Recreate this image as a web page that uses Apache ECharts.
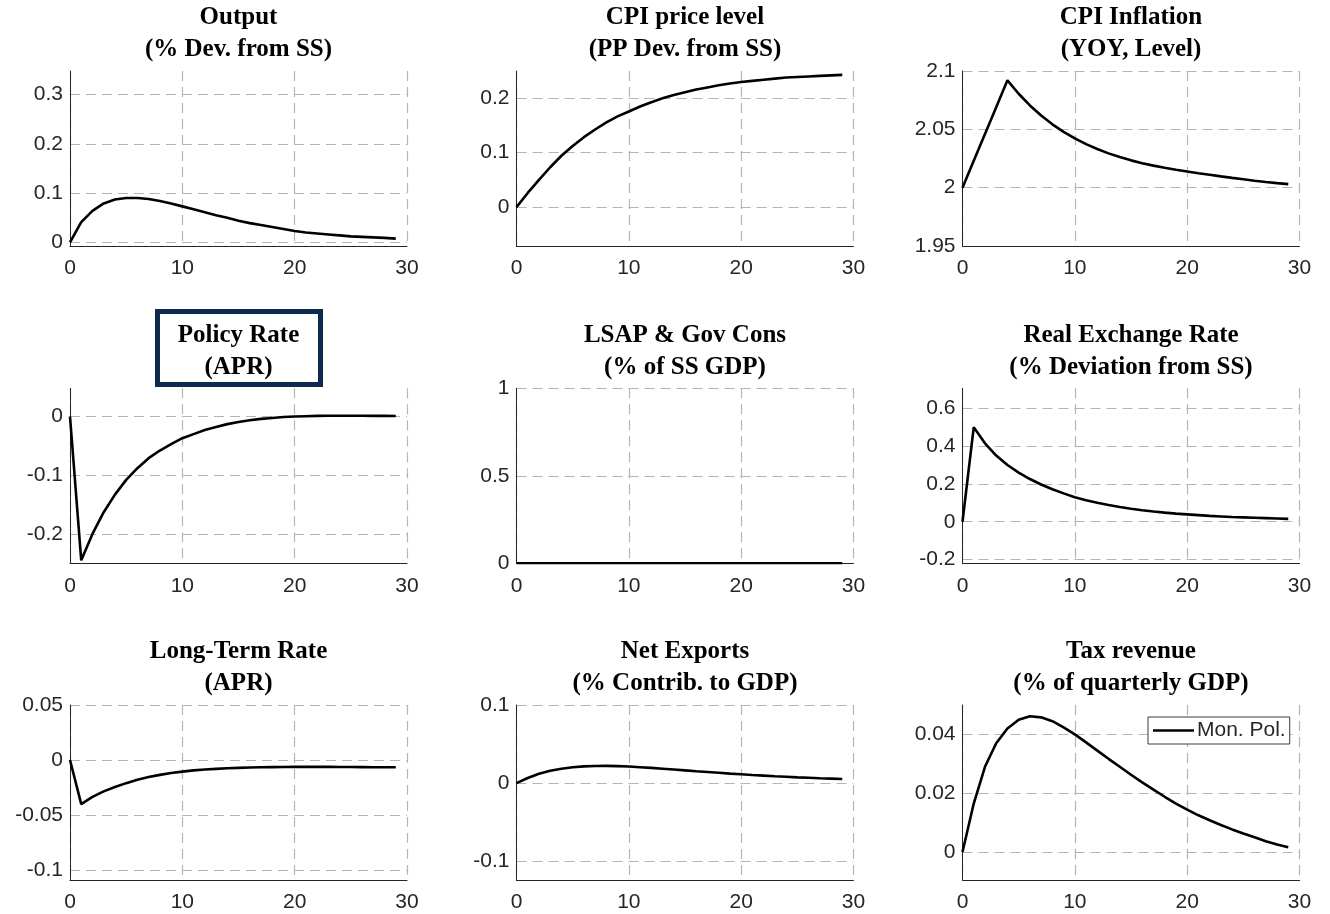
<!DOCTYPE html>
<html><head><meta charset="utf-8">
<script src="https://cdn.jsdelivr.net/npm/echarts@6/dist/echarts.min.js"></script>
<style>html,body{margin:0;padding:0;background:#fff}#c{width:1330px;height:914px}</style>
</head><body><div id="c"></div><script>
// ---------------- DATA ----------------
const periods = [0,1,2,3,4,5,6,7,8,9,10,11,12,13,14,15,16,17,18,19,20,21,22,23,24,25,26,27,28,29];

const titles = [
  'Output\n(% Dev. from SS)',
  'CPI price level\n(PP Dev. from SS)',
  'CPI Inflation\n(YOY, Level)',
  'Policy Rate\n(APR)',
  'LSAP & Gov Cons\n(% of SS GDP)',
  'Real Exchange Rate\n(% Deviation from SS)',
  'Long-Term Rate\n(APR)',
  'Net Exports\n(% Contrib. to GDP)',
  'Tax revenue\n(% of quarterly GDP)'
];

const output = [0, 0.041, 0.064, 0.079, 0.087, 0.090, 0.090, 0.088, 0.084, 0.079, 0.073, 0.067, 0.061, 0.055, 0.050, 0.044, 0.039, 0.035, 0.031, 0.027, 0.023, 0.020, 0.018, 0.016, 0.014, 0.012, 0.011, 0.010, 0.009, 0.0075];
const cpiLevel = [0, 0.026, 0.050, 0.073, 0.094, 0.112, 0.128, 0.142, 0.155, 0.166, 0.175, 0.184, 0.192, 0.199, 0.205, 0.210, 0.215, 0.219, 0.223, 0.226, 0.229, 0.231, 0.233, 0.235, 0.237, 0.238, 0.239, 0.240, 0.241, 0.242];
const cpiInflation = [2.0, 2.023, 2.046, 2.069, 2.092, 2.0805, 2.0705, 2.0618, 2.0543, 2.0478, 2.0422, 2.0373, 2.0331, 2.0294, 2.0262, 2.0234, 2.0210, 2.0189, 2.0170, 2.0153, 2.0138, 2.0124, 2.0111, 2.0097, 2.0084, 2.0072, 2.0060, 2.0049, 2.0039, 2.0030];
const policyRate = [0, -0.245, -0.200, -0.163, -0.133, -0.108, -0.088, -0.071, -0.058, -0.047, -0.037, -0.030, -0.023, -0.018, -0.013, -0.0095, -0.0065, -0.004, -0.0025, -0.001, 0, 0.0005, 0.001, 0.0012, 0.0013, 0.0013, 0.0012, 0.0011, 0.001, 0.0009];
const lsapGov = [0,0,0,0,0,0,0,0,0,0,0,0,0,0,0,0,0,0,0,0,0,0,0,0,0,0,0,0,0,0];
const realExRate = [0, 0.5, 0.415, 0.35, 0.30, 0.26, 0.226, 0.197, 0.172, 0.150, 0.130, 0.114, 0.100, 0.088, 0.078, 0.069, 0.061, 0.054, 0.048, 0.043, 0.039, 0.035, 0.031, 0.028, 0.025, 0.023, 0.021, 0.019, 0.017, 0.015];
const longRate = [0, -0.040, -0.0335, -0.0285, -0.0245, -0.021, -0.018, -0.0155, -0.0135, -0.0118, -0.0105, -0.0094, -0.0086, -0.008, -0.0075, -0.0071, -0.0068, -0.0066, -0.0064, -0.0063, -0.0062, -0.0062, -0.0062, -0.0062, -0.0063, -0.0063, -0.0064, -0.0065, -0.0066, -0.0066];
const netExports = [0, 0.0065, 0.012, 0.0158, 0.0185, 0.0203, 0.0214, 0.022, 0.0221, 0.0218, 0.0212, 0.0204, 0.0195, 0.0185, 0.0174, 0.0163, 0.0152, 0.0142, 0.0132, 0.0122, 0.0113, 0.0104, 0.0096, 0.0088, 0.0081, 0.0074, 0.0068, 0.0062, 0.0057, 0.0052];
const taxRevenue = [0, 0.0165, 0.029, 0.037, 0.042, 0.045, 0.0462, 0.0458, 0.0445, 0.0424, 0.040, 0.0373, 0.0345, 0.0317, 0.0290, 0.0263, 0.0237, 0.0212, 0.0188, 0.0165, 0.0144, 0.0125, 0.0108, 0.0092, 0.0077, 0.0063, 0.0050, 0.0037, 0.0026, 0.0016];

const seriesValues = [output, cpiLevel, cpiInflation, policyRate, lsapGov, realExRate, longRate, netExports, taxRevenue];

const yMins = [-0.0075, -0.071, 1.95, -0.25, 0, -0.22, -0.109, -0.124, -0.0095];
const yMaxs = [0.348, 0.249, 2.1, 0.048, 1, 0.706, 0.05, 0.1, 0.05];
const yTicks = [
  [0, 0.1, 0.2, 0.3],
  [0, 0.1, 0.2],
  [1.95, 2, 2.05, 2.1],
  [-0.2, -0.1, 0],
  [0, 0.5, 1],
  [-0.2, 0, 0.2, 0.4, 0.6],
  [-0.1, -0.05, 0, 0.05],
  [-0.1, 0, 0.1],
  [0, 0.02, 0.04]
];
const xTicks = [0, 10, 20, 30];
const legendLabel = 'Mon. Pol.';

// ---------------- LAYOUT ----------------
const colLeft = [70, 516.5, 962.5];
const rowTop = [71, 388.3, 705];
const plotW = 337, plotH = 175;
const labelFont = '"Liberation Sans", Arial, Helvetica, sans-serif';
const titleFont = '"Liberation Serif", "Times New Roman", serif';
const gridColor = '#b5b5b5';
const fmt = v => String(parseFloat((+v).toFixed(6)));

const grids = [], xAxes = [], yAxes = [], series = [], titleOpts = [];
for (let i = 0; i < 9; i++) {
  const r = Math.floor(i / 3), c = i % 3;
  grids.push({left: colLeft[c], top: rowTop[r], width: plotW, height: plotH, containLabel: false, outerBoundsMode: 'none'});
  const split = {show: true, lineStyle: {type: [10, 6], color: gridColor, width: 1.2}};
  xAxes.push({
    gridIndex: i, type: 'value', min: 0, max: 30, interval: 10,
    axisLine: {show: true, onZero: false, lineStyle: {color: '#262626', width: 1}},
    axisTick: {show: false, customValues: xTicks},
    axisLabel: {customValues: xTicks, fontSize: 21, color: '#262626', fontFamily: labelFont, margin: 12, formatter: fmt},
    splitLine: split
  });
  yAxes.push({
    gridIndex: i, type: 'value', min: yMins[i], max: yMaxs[i],
    axisLine: {show: true, onZero: false, lineStyle: {color: '#262626', width: 1}},
    axisTick: {show: false, customValues: yTicks[i]},
    axisLabel: {customValues: yTicks[i], fontSize: 21, color: '#262626', fontFamily: labelFont, margin: 7, formatter: fmt},
    splitLine: split
  });
  series.push({
    type: 'line', name: i === 8 ? legendLabel : ('s' + i),
    xAxisIndex: i, yAxisIndex: i,
    data: periods.map((t, k) => [t, seriesValues[i][k]]),
    showSymbol: false, symbol: 'none', smooth: false,
    lineStyle: {color: '#000', width: 2.6},
    itemStyle: {color: '#000'},
    z: 5, animation: false, clip: true
  });
  titleOpts.push({
    text: titles[i],
    left: colLeft[c] + plotW / 2, top: rowTop[r] - 69,
    textAlign: 'center', padding: 0,
    textStyle: {fontFamily: titleFont, fontWeight: 'bold', fontSize: 25, lineHeight: 32, color: '#000'}
  });
}

const chart = echarts.init(document.getElementById('c'), null, {renderer: 'canvas'});
chart.setOption({
  backgroundColor: '#fff',
  animation: false,
  title: titleOpts,
  grid: grids, xAxis: xAxes, yAxis: yAxes, series: series,
  legend: {
    data: [{name: legendLabel, icon: 'rect'}], left: 1148, top: 717,
    backgroundColor: '#fff', borderColor: '#3a3a3a', borderWidth: 1, borderRadius: 0,
    padding: [3, 4, 3, 5], itemWidth: 41, itemHeight: 2.6, itemGap: 0,
    itemStyle: {color: '#000', borderWidth: 0},
    textStyle: {fontSize: 21, lineHeight: 21, color: '#262626', fontFamily: labelFont, padding: [0, 0, 0, -2]},
    selectedMode: false, z: 10
  },
  graphic: [{
    type: 'rect', left: 155, top: 309, z: 20,
    shape: {width: 163, height: 73},
    style: {fill: 'none', stroke: '#0b2c4a', lineWidth: 5}
  }]
});
</script></body></html>
